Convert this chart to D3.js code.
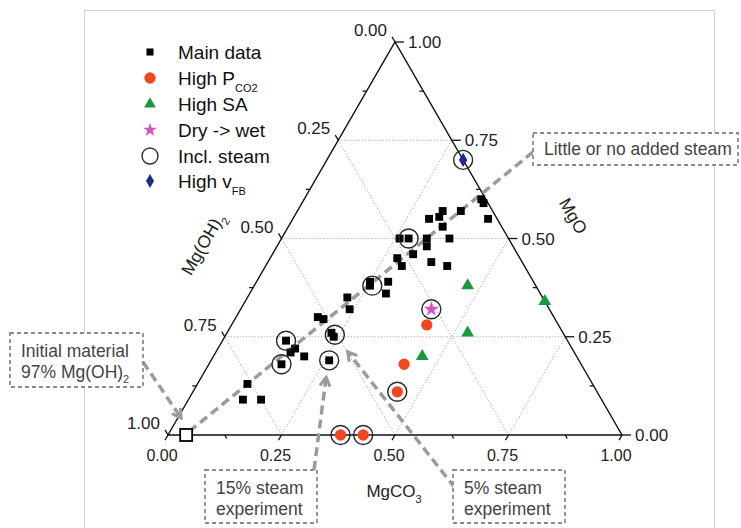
<!DOCTYPE html>
<html>
<head>
<meta charset="utf-8">
<script src="https://cdn.jsdelivr.net/npm/d3@7"></script>
<style>
body {margin:0; background:#fff;}
text {font-family:"Liberation Sans", Arial, sans-serif;}
</style>
</head>
<body>
<div id="canvas"></div>
<script>
// every point is [MgCO3, MgO]; Mg(OH)2 = 1 - MgCO3 - MgO
var mainData = [
  [0.25,0.39],[0.22,0.35],[0.24,0.32],[0.18,0.30],[0.195,0.295],[0.23,0.26],[0.24,0.25],
  [0.14,0.24],[0.17,0.22],[0.165,0.21],[0.20,0.20],[0.16,0.18],[0.26,0.19],
  [0.11,0.13],[0.12,0.09],[0.16,0.09],
  [0.39,0.60],[0.40,0.59],[0.43,0.55],[0.32,0.57],[0.32,0.555],[0.30,0.55],[0.36,0.57],
  [0.34,0.53],[0.37,0.50],[0.32,0.50],[0.33,0.48],[0.28,0.50],[0.26,0.50],[0.31,0.46],
  [0.28,0.45],[0.30,0.43],[0.36,0.44],[0.40,0.43],[0.29,0.39],[0.30,0.36],[0.255,0.38]
];
var highPCO2 = [[0.38,0],[0.43,0],[0.43,0.28],[0.43,0.18],[0.45,0.11]];
var highSA = [[0.47,0.38],[0.66,0.34],[0.53,0.26],[0.46,0.20]];
var dryWet = [[0.42,0.32]];
var highVFB = [[0.30,0.70]];
var inclSteam = [
  [0.24,0.255],[0.14,0.24],[0.16,0.18],[0.26,0.19],[0.26,0.38],[0.28,0.50],
  [0.30,0.70],[0.42,0.32],[0.45,0.11],[0.38,0],[0.43,0]
];
var initialMaterial = [[0.04,0]];

var tickValues = [0, 0.25, 0.5, 0.75, 1];
var tickLabels = ['0.00','0.25','0.50','0.75','1.00'];
var minorValues = [0.125, 0.375, 0.625, 0.875];
var gridValues = [0.25, 0.5, 0.75];

svg = d3.select('#canvas').append('svg')
  .attr('width',741)
  .attr('height',528);

var xs = d3.scaleLinear().domain([0,1]).range([168,622]);
var ys = d3.scaleLinear().domain([0,1]).range([435,42]);
function px(d) { return xs(d[0] + d[1]/2); }
function py(d) { return ys(d[1]); }

// light frame round the figure
svg.append('rect')
  .attr('x',84.5).attr('y',10.5)
  .attr('width',630).attr('height',540)
  .attr('fill','none')
  .attr('stroke','#cfcfcf');

// grid
var gridLines = [];
gridValues.forEach(function(v) {
  gridLines.push([[0,v],[1-v,v]]);       // MgO constant
  gridLines.push([[v,0],[v,1-v]]);       // MgCO3 constant
  gridLines.push([[1-v,0],[0,1-v]]);     // Mg(OH)2 constant
});
svg.append('g').selectAll('line').data(gridLines).enter().append('line')
  .attr('x1',function(d){return px(d[0]);})
  .attr('y1',function(d){return py(d[0]);})
  .attr('x2',function(d){return px(d[1]);})
  .attr('y2',function(d){return py(d[1]);})
  .attr('stroke','#9a9a9a')
  .attr('stroke-width',1)
  .attr('stroke-dasharray','1,2');

// triangle
var corners = [[0,0],[1,0],[0,1]];
svg.append('path')
  .attr('d','M' + corners.map(function(d){return px(d)+','+py(d);}).join('L') + 'Z')
  .attr('fill','none')
  .attr('stroke','#111')
  .attr('stroke-width',1.4);

var axes = svg.append('g').attr('stroke','#111').attr('stroke-width',1.3);
var cos60 = 0.5, sin60 = 0.866;

// bottom axis MgCO3
tickValues.forEach(function(v,i) {
  var p = [v,0];
  axes.append('line').attr('x1',px(p)).attr('y1',py(p))
    .attr('x2',px(p)-6*cos60).attr('y2',py(p)+6*sin60);
  svg.append('text').attr('x',px(p)-6).attr('y',py(p)+26)
    .attr('text-anchor','middle').style('font-size','16px').attr('fill','#222')
    .text(tickLabels[i]);
});
minorValues.forEach(function(v) {
  var p = [v,0];
  axes.append('line').attr('x1',px(p)).attr('y1',py(p))
    .attr('x2',px(p)+4*cos60).attr('y2',py(p)+4*sin60);
});

// left axis Mg(OH)2 (1 at bottom left, 0 at top)
tickValues.forEach(function(v,i) {
  var p = [0,1-v];
  axes.append('line').attr('x1',px(p)).attr('y1',py(p))
    .attr('x2',px(p)-6*cos60).attr('y2',py(p)-6*sin60);
  svg.append('text').attr('x',px(p)-8).attr('y',py(p)-6)
    .attr('text-anchor','end').style('font-size','17px').attr('fill','#222')
    .text(tickLabels[i]);
});
minorValues.forEach(function(v) {
  var p = [0,1-v];
  axes.append('line').attr('x1',px(p)).attr('y1',py(p))
    .attr('x2',px(p)-4).attr('y2',py(p));
});

// right axis MgO (1 at top, 0 at bottom right)
tickValues.forEach(function(v,i) {
  var p = [1-v,v];
  axes.append('line').attr('x1',px(p)).attr('y1',py(p))
    .attr('x2',px(p)+9).attr('y2',py(p));
  svg.append('text').attr('x',px(p)+13).attr('y',py(p)+6)
    .style('font-size','17px').attr('fill','#222')
    .text(tickLabels[i]);
});
minorValues.forEach(function(v) {
  var p = [1-v,v];
  axes.append('line').attr('x1',px(p)).attr('y1',py(p))
    .attr('x2',px(p)-4).attr('y2',py(p));
});

// axis titles
var tB = svg.append('text').attr('x',394).attr('y',497)
  .attr('text-anchor','middle').style('font-size','17px').attr('fill','#222');
tB.append('tspan').text('MgCO');
tB.append('tspan').attr('dy',6).style('font-size','11px').text('3');

var tL = svg.append('text').attr('transform','translate(208,247) rotate(-60)')
  .attr('text-anchor','middle').style('font-size','17.5px').attr('fill','#222');
tL.append('tspan').text('Mg(OH)');
tL.append('tspan').attr('dy',6).style('font-size','11px').text('2');

svg.append('text').attr('transform','translate(568,219) rotate(60)')
  .attr('text-anchor','middle').style('font-size','17.5px').attr('fill','#222')
  .text('MgO');

// arrows and the trend line
var defs = svg.append('defs');
defs.append('marker')
  .attr('id','arr')
  .attr('viewBox','0 0 10 10')
  .attr('refX',8).attr('refY',5)
  .attr('markerWidth',3.6).attr('markerHeight',3.6)
  .attr('orient','auto')
  .append('path')
  .attr('d','M1,1 L8,5 L1,9')
  .attr('fill','none')
  .attr('stroke','#9b9b9b')
  .attr('stroke-width',2.4);

var init = initialMaterial[0];
var arrows = [
  {x1:533, y1:152, x2:px(init)+6, y2:py(init)-6, head:false},
  {x1:143, y1:362, x2:px(init)-5, y2:py(init)-17, head:true},
  {x1:314, y1:470, x2:px(mainData[12])-3, y2:py(mainData[12])+17, head:true},
  {x1:455, y1:488, x2:px(mainData[6])+14, y2:py(mainData[6])+15, head:true}
];
svg.append('g').selectAll('line').data(arrows).enter().append('line')
  .attr('x1',function(d){return d.x1;})
  .attr('y1',function(d){return d.y1;})
  .attr('x2',function(d){return d.x2;})
  .attr('y2',function(d){return d.y2;})
  .attr('stroke','#9b9b9b')
  .attr('stroke-width',3.5)
  .attr('stroke-dasharray','9,5')
  .attr('marker-end',function(d){return d.head ? 'url(#arr)' : null;});

// markers
function addSymbols(data, type, size, fill) {
  svg.append('g').selectAll('path').data(data).enter().append('path')
    .attr('transform',function(d){return 'translate(' + px(d) + ',' + py(d) + ')';})
    .attr('d',d3.symbol().type(type).size(size))
    .attr('fill',fill);
}
addSymbols(mainData, d3.symbolSquare, 62, '#000');
addSymbols(highPCO2, d3.symbolCircle, 100, '#f2461f');
addSymbols(highSA, d3.symbolTriangle, 70, '#169a3c');
addSymbols(dryWet, d3.symbolStar, 70, '#d452c4');
addSymbols(highVFB, d3.symbolDiamond, 60, '#1b2a8c');

svg.append('g').selectAll('circle').data(inclSteam).enter().append('circle')
  .attr('cx',function(d){return px(d);})
  .attr('cy',function(d){return py(d);})
  .attr('r',9.5)
  .attr('fill','none')
  .attr('stroke','#1f2a2a')
  .attr('stroke-width',1.4);

svg.append('g').selectAll('rect').data(initialMaterial).enter().append('rect')
  .attr('x',function(d){return px(d)-6;})
  .attr('y',function(d){return py(d)-6;})
  .attr('width',12).attr('height',12)
  .attr('fill','#fff')
  .attr('stroke','#000')
  .attr('stroke-width',1.8);

// legend
var legendLabels = ['Main data','High P','High SA','Dry -> wet','Incl. steam','High v'];
var legendSubs = ['','CO2','','','','FB'];
var legendY = [52, 78, 104, 130, 156, 181];
var lg = svg.append('g');
var lgSym = [
  [d3.symbolSquare, 50, '#000'],
  [d3.symbolCircle, 100, '#f2461f'],
  [d3.symbolTriangle, 60, '#169a3c'],
  [d3.symbolStar, 60, '#d452c4'],
  null,
  [d3.symbolDiamond, 55, '#1b2a8c']
];
legendLabels.forEach(function(name,i) {
  if (lgSym[i]) {
    lg.append('path')
      .attr('transform','translate(150,' + legendY[i] + ')')
      .attr('d',d3.symbol().type(lgSym[i][0]).size(lgSym[i][1]))
      .attr('fill',lgSym[i][2]);
  } else {
    lg.append('circle').attr('cx',150).attr('cy',legendY[i]).attr('r',8)
      .attr('fill','none').attr('stroke','#333').attr('stroke-width',1.4);
  }
  var t = lg.append('text').attr('x',178).attr('y',legendY[i]+7)
    .style('font-size','19px').attr('fill','#111');
  t.append('tspan').text(name);
  if (legendSubs[i]) {
    t.append('tspan').attr('dy',7).style('font-size','11px').text(legendSubs[i]);
  }
});

// annotation boxes
var boxes = [
  {x:533, y:133, w:205, h:32, lines:[['Little or no added steam','']]},
  {x:10, y:333, w:133, h:54, lines:[['Initial material',''],['97% Mg(OH)','2']]},
  {x:205, y:470, w:112, h:53, lines:[['15% steam',''],['experiment','']]},
  {x:453, y:470, w:112, h:53, lines:[['5% steam',''],['experiment','']]}
];
boxes.forEach(function(b) {
  svg.append('rect')
    .attr('x',b.x).attr('y',b.y).attr('width',b.w).attr('height',b.h)
    .attr('fill','#fff')
    .attr('stroke','#8c8c8c')
    .attr('stroke-width',1.8)
    .attr('stroke-dasharray','4,3');
  b.lines.forEach(function(l,j) {
    var t = svg.append('text')
      .attr('x',b.x+11)
      .attr('y',b.y + (b.lines.length==1 ? 22 : 24 + j*21))
      .style('font-size','17.5px')
      .attr('fill','#444');
    t.append('tspan').text(l[0]);
    if (l[1]) t.append('tspan').attr('dy',5).style('font-size','11px').text(l[1]);
  });
});
</script>
</body>
</html>
